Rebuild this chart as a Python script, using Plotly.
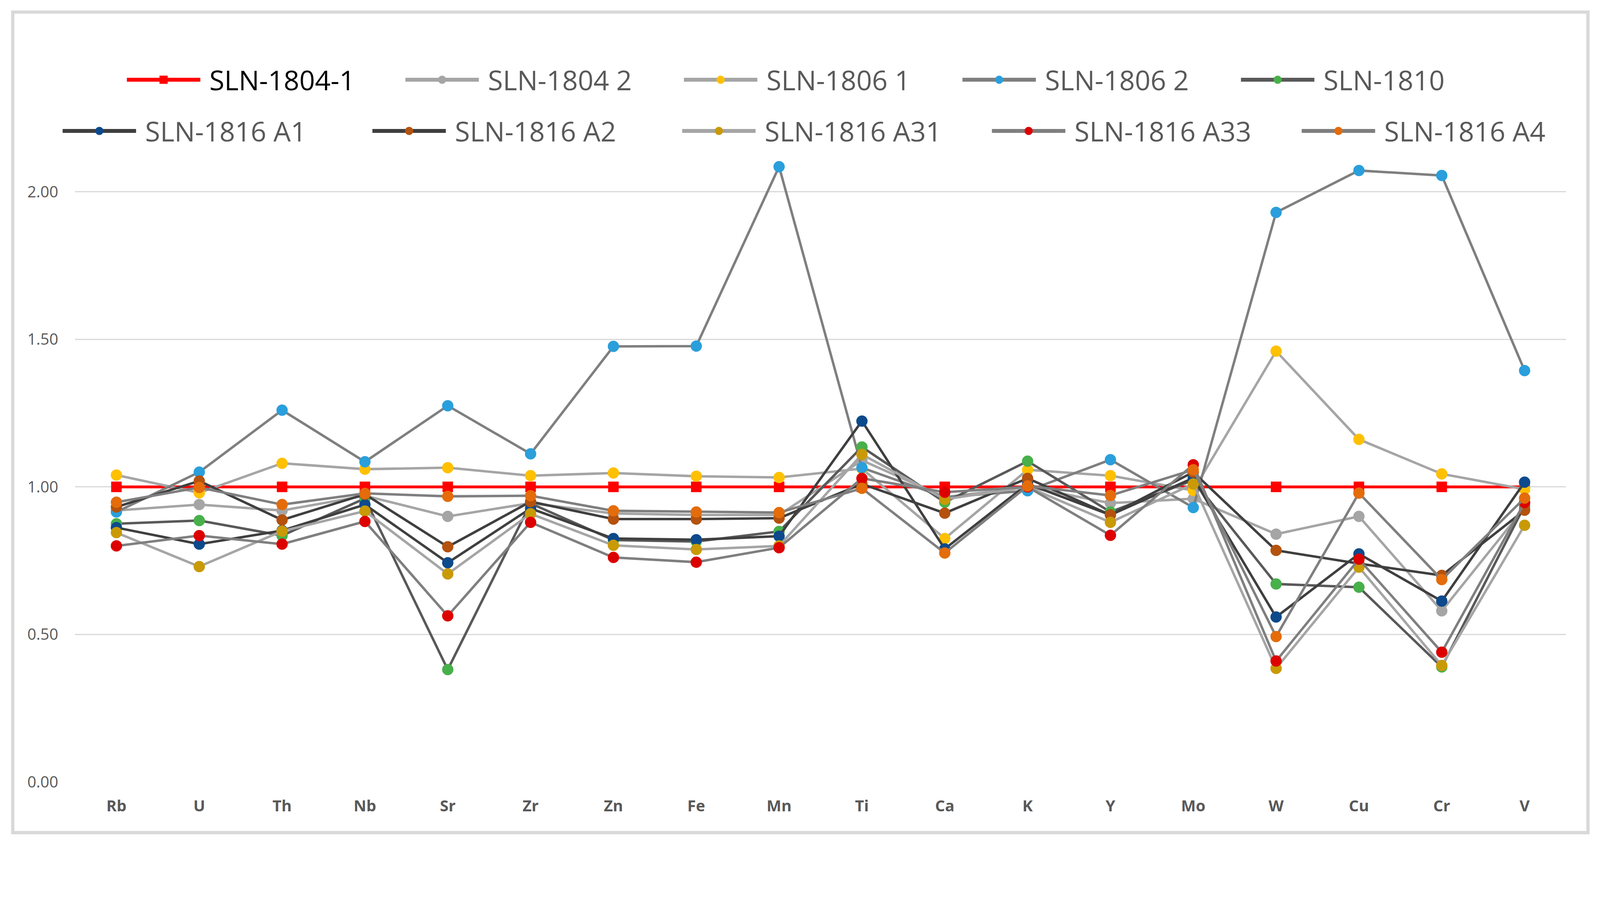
import plotly.graph_objects as go

elements = ["Rb", "U", "Th", "Nb", "Sr", "Zr", "Zn", "Fe", "Mn", "Ti", "Ca", "K", "Y", "Mo", "W", "Cu", "Cr", "V"]

sln_1804_1 = [1.00, 1.00, 1.00, 1.00, 1.00, 1.00, 1.00, 1.00, 1.00, 1.00, 1.00, 1.00, 1.00, 1.00, 1.00, 1.00, 1.00, 1.00]
sln_1804_2 = [0.92, 0.94, 0.92, 0.97, 0.90, 0.945, 0.91, 0.905, 0.905, 1.09, 0.965, 1.00, 0.945, 0.96, 0.84, 0.90, 0.58, 0.93]
sln_1806_1 = [1.04, 0.98, 1.08, 1.06, 1.065, 1.038, 1.047, 1.036, 1.032, 1.062, 0.825, 1.058, 1.038, 0.988, 1.46, 1.161, 1.044, 0.992]
sln_1806_2 = [0.915, 1.05, 1.26, 1.085, 1.275, 1.112, 1.476, 1.477, 2.085, 1.065, 0.965, 0.987, 1.092, 0.93, 1.93, 2.072, 2.055, 1.394]
sln_1810 = [0.875, 0.886, 0.835, 0.961, 0.381, 0.944, 0.82, 0.815, 0.849, 1.135, 0.948, 1.087, 0.915, 1.023, 0.671, 0.66, 0.39, 0.936]
sln_1816_a1 = [0.862, 0.806, 0.852, 0.94, 0.743, 0.927, 0.825, 0.821, 0.833, 1.223, 0.79, 1.01, 0.905, 1.03, 0.559, 0.773, 0.613, 1.016]
sln_1816_a2 = [0.932, 1.02, 0.888, 0.975, 0.797, 0.95, 0.891, 0.891, 0.894, 1.01, 0.911, 1.029, 0.905, 1.05, 0.785, 0.74, 0.70, 0.921]
sln_1816_a31 = [0.845, 0.73, 0.85, 0.918, 0.705, 0.909, 0.802, 0.788, 0.80, 1.11, 0.958, 1.00, 0.88, 1.01, 0.385, 0.728, 0.395, 0.87]
sln_1816_a33 = [0.80, 0.835, 0.806, 0.883, 0.563, 0.88, 0.761, 0.745, 0.794, 1.029, 0.982, 1.00, 0.836, 1.075, 0.41, 0.755, 0.44, 0.947]
sln_1816_a4 = [0.948, 0.998, 0.94, 0.978, 0.968, 0.97, 0.919, 0.915, 0.913, 0.995, 0.776, 1.003, 0.971, 1.058, 0.493, 0.979, 0.686, 0.962]

y_ticks = [0, 0.5, 1.0, 1.5, 2.0]
y_tick_labels = ["0.00", "0.50", "1.00", "1.50", "2.00"]

# page rendering: screenshot px = (css px + 8) * S
S = 1.0762
W, H = 4080, 2150


def cx(p):
    return p / S - 8


L_, R_ = cx(207), cx(4315)
T_, B_ = cx(430), cx(2154)
PW, PH = R_ - L_, B_ - T_

NB = "\u00a0"
# (name, values, line colour, marker colour, marker symbol, legend)
series = [
    ('<span style="color:#000000">' + NB + 'SLN-1804-1</span>', sln_1804_1, "#FF0000", "#FF0000", "square", "legend"),
    (NB + "SLN-1804 2", sln_1804_2, "#A5A5A5", "#A5A5A5", "circle", "legend"),
    (NB + "SLN-1806 1", sln_1806_1, "#A5A5A5", "#FFC000", "circle", "legend"),
    (NB + "SLN-1806 2", sln_1806_2, "#7F7F7F", "#2A9FDC", "circle", "legend"),
    (NB + "SLN-1810", sln_1810, "#595959", "#48B04B", "circle", "legend"),
    (NB + "SLN-1816 A1", sln_1816_a1, "#3F3F3F", "#0D4A8C", "circle", "legend2"),
    (NB + "SLN-1816 A2", sln_1816_a2, "#3F3F3F", "#B4520E", "circle", "legend2"),
    (NB + "SLN-1816 A31", sln_1816_a31, "#A5A5A5", "#C99A06", "circle", "legend2"),
    (NB + "SLN-1816 A33", sln_1816_a33, "#7F7F7F", "#DD0000", "circle", "legend2"),
    (NB + "SLN-1816 A4", sln_1816_a4, "#7F7F7F", "#E46C0A", "circle", "legend2"),
]

fig = go.Figure()
# data traces
for name, vals, lc, mc, sym, leg in series:
    is_ref = sym == "square"
    fig.add_trace(go.Scatter(
        x=elements, y=vals, name=name, mode="lines+markers",
        line=dict(color=lc, width=7.2 if is_ref else 6.3),
        marker=dict(color=mc, size=22 if is_ref else 24, symbol=sym,
                    line=dict(color=mc, width=5)),
        showlegend=False, cliponaxis=False,
    ))
# legend keys (thicker symbols, no data drawn)
for name, vals, lc, mc, sym, leg in series:
    fig.add_trace(go.Scatter(
        x=[None], y=[None], name=name, mode="lines+markers",
        line=dict(color=lc, width=10),
        marker=dict(color=mc, size=16, symbol=sym, line=dict(color=mc, width=5)),
        legend=leg, showlegend=True,
    ))

legend_common = dict(
    orientation="h", xref="paper", yref="paper",
    xanchor="left", yanchor="middle",
    font=dict(family="Open Sans", size=70, color="#595959"),
    itemwidth=188, bgcolor="rgba(0,0,0,0)", entrywidthmode="pixels",
)

fig.update_layout(
    width=W, height=H,
    paper_bgcolor="white", plot_bgcolor="white",
    margin=dict(l=L_, r=W - R_, t=T_, b=H - B_, autoexpand=False),
    showlegend=True,
    legend=dict(x=(cx(351) - 6 - L_) / PW, y=(B_ - cx(219)) / PH, entrywidth=510, **legend_common),
    legend2=dict(x=(cx(174) - 6 - L_) / PW, y=(B_ - cx(360)) / PH, entrywidth=590, **legend_common),
    xaxis=dict(
        type="category", range=[-0.5, 17.5], showgrid=False, showline=False,
        zeroline=False, ticks="", ticklabelstandoff=34,
        tickfont=dict(family="Open Sans", size=40, color="#595959", weight="bold"),
    ),
    yaxis=dict(
        range=[0, 2.12], tickvals=y_ticks, ticktext=y_tick_labels,
        showgrid=True, gridcolor="#D9D9D9", gridwidth=3, zeroline=False,
        showline=False, ticks="", ticklabelstandoff=42,
        tickfont=dict(family="Open Sans", size=40, color="#595959"),
    ),
    shapes=[dict(
        type="rect", xref="paper", yref="paper",
        x0=(cx(35.5) - L_) / PW, x1=(cx(4375.5) - L_) / PW,
        y0=(B_ - cx(2293.5)) / PH, y1=(B_ - cx(32.5)) / PH,
        line=dict(color="#D9D9D9", width=8.4), layer="below",
    )],
)

fig.write_html("out.html")
